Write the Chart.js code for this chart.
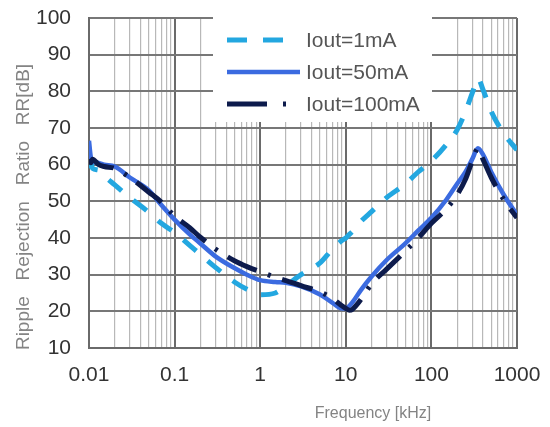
<!DOCTYPE html>
<html>
<head>
<meta charset="utf-8">
<title>Ripple Rejection Ratio</title>
<script src="https://cdn.jsdelivr.net/npm/chart.js@4"></script>
<style>
  html, body { margin: 0; padding: 0; background: #fff; }
  #wrap { width: 550px; height: 427px; }
</style>
</head>
<body>
<div id="wrap"><canvas id="rr" width="550" height="427"></canvas></div>
<script>
// frequency in kHz, shared by all three curves
const freqKHz = [0.01, 0.0105, 0.011, 0.013, 0.015, 0.02, 0.03, 0.05, 0.07,
  0.1, 0.15, 0.2, 0.3, 0.5, 0.7, 1, 1.5, 2, 3, 5, 7, 9,
  10, 11, 12, 15, 20, 30, 50, 70, 100, 150, 200, 250, 300, 350, 400, 500, 700, 1000];

// ripple rejection ratio [dB]
const rr1mA = [59, 60.5, 59, 58.5, 57, 54.5, 51, 47, 44,
  41.5, 38, 35.5, 32, 28, 26, 24.5, 25, 27, 30, 33.2, 37, 39.3,
  40, 41, 41.8, 44.5, 47.2, 51, 54.8, 58, 61, 65.5, 69.5, 74.5, 79.5, 83.5, 80.5, 74.5, 68.5, 64];
const rr50mA = [66.5, 62, 61, 60.5, 60, 59.5, 56.5, 53, 49,
  45, 41, 38.5, 35, 31.8, 30, 28.5, 28, 27.8, 26.8, 24.6, 22.3, 20.8,
  20.8, 21.5, 22.5, 25.8, 29.5, 34, 38.6, 42, 45.5, 50.5, 54.8, 58, 61.5, 64.5, 62.8, 58, 51.8, 46.3];
const rr100mA = [61.5, 60.5, 61.5, 60, 59.5, 59, 56.5, 52.5, 49.8,
  46, 42.8, 40.2, 37, 33.8, 32.2, 30.8, 29.3, 28.4, 27, 25.3, 23.5, 21.5,
  20.8, 20.3, 20.6, 23.2, 27.5, 31.5, 36.5, 40, 44, 48, 51.8, 56, 61, 64.5, 61.5, 56.5, 50.5, 45.5];

const seriesNames = ['Iout=1mA', 'Iout=50mA', 'Iout=100mA'];
const xTickLabels = ['0.01', '0.1', '1', '10', '100', '1000'];
const yMin = 10, yMax = 100, yStep = 10;
const xTitle = 'Frequency [kHz]';
const yTitle = 'Ripple   Rejection   Ratio   RR[dB]';

const pts = arr => arr.map((v, i) => ({ x: freqKHz[i], y: v }));
const isDecade = v => { const l = Math.log10(v); return Math.abs(l - Math.round(l)) < 1e-6; };

Chart.defaults.font.family = '"Liberation Sans", Arial, sans-serif';

// legend drawn inside the plot, over the grid
const boxLegend = {
  id: 'boxLegend',
  beforeDatasetsDraw(chart) {
    const ctx = chart.ctx;
    ctx.save();
    ctx.fillStyle = '#fff';
    ctx.fillRect(213, 16, 219, 106);
    chart.data.datasets.forEach((ds, i) => {
      const y = 40 + i * 32;
      ctx.beginPath();
      ctx.strokeStyle = ds.borderColor;
      ctx.lineWidth = ds.borderWidth;
      ctx.setLineDash(ds.legendDash || []);
      ctx.moveTo(227, y);
      ctx.lineTo(ds.legendDash ? 298 : 300, y);
      ctx.stroke();
      ctx.setLineDash([]);
      ctx.fillStyle = '#555';
      ctx.font = '21px "Liberation Sans", Arial, sans-serif';
      ctx.textBaseline = 'middle';
      ctx.fillText(ds.label, 306, y + 1);
    });
    ctx.restore();
  }
};

const axisTitles = {
  id: 'axisTitles',
  afterDraw(chart) {
    const ctx = chart.ctx;
    ctx.save();
    ctx.fillStyle = '#848484';
    ctx.textAlign = 'center';
    ctx.textBaseline = 'middle';
    ctx.font = '16px "Liberation Sans", Arial, sans-serif';
    ctx.fillText(xTitle, 373, 414);
    ctx.translate(24, 207);
    ctx.rotate(-Math.PI / 2);
    ctx.font = '19px "Liberation Sans", Arial, sans-serif';
    ctx.fillText(yTitle, 0, 0);
    ctx.restore();
  }
};

const noPad = s => { s.paddingLeft = 0; s.paddingRight = 0; s.paddingTop = 0; s.paddingBottom = 0; };

new Chart(document.getElementById('rr'), {
  type: 'line',
  data: {
    datasets: [{
      label: seriesNames[0],
      data: pts(rr1mA),
      borderColor: '#23a7e0',
      borderWidth: 5,
      borderDash: [17, 15],
      legendDash: [20, 16],
      order: 2
    }, {
      label: seriesNames[1],
      data: pts(rr50mA),
      borderColor: '#3b6be0',
      borderWidth: 4.5,
      order: 1
    }, {
      label: seriesNames[2],
      data: pts(rr100mA),
      borderColor: '#0d1b4c',
      borderWidth: 5,
      borderDash: [32, 12, 3, 12],
      legendDash: [40, 16, 3, 16],
      order: 0
    }]
  },
  options: {
    responsive: false,
    animation: false,
    layout: { padding: { top: 18, right: 33, left: 0, bottom: 0 } },
    plugins: {
      legend: { display: false },
      tooltip: { enabled: false }
    },
    elements: { point: { radius: 0 }, line: { fill: false, cubicInterpolationMode: 'monotone' } },
    scales: {
      x: {
        type: 'logarithmic',
        min: 0.01,
        max: 1000,
        afterBuildTicks(scale) {
          const t = [];
          for (let e = -2; e <= 3; e++) {
            for (let m = 1; m <= 9; m++) {
              const v = m * Math.pow(10, e);
              if (v <= 1000 * 1.0001) t.push({ value: v });
            }
          }
          scale.ticks = t;
        },
        afterFit(scale) { scale.height = 79; noPad(scale); },
        ticks: {
          autoSkip: false,
          maxRotation: 0,
          minRotation: 0,
          padding: 15,
          color: '#333',
          font: { size: 21 },
          callback(v) { return isDecade(v) ? xTickLabels[Math.round(Math.log10(v)) + 2] : ''; }
        },
        grid: {
          drawTicks: false,
          color: ctx => isDecade(ctx.tick.value) ? '#6a6a6a' : '#b8b8b8',
          lineWidth: ctx => isDecade(ctx.tick.value) ? 2 : 1.2
        },
        border: { display: true, color: '#6a6a6a', width: 2 }
      },
      y: {
        min: yMin,
        max: yMax,
        afterFit(scale) { scale.width = 89; noPad(scale); },
        ticks: {
          stepSize: yStep,
          padding: 18,
          color: '#333',
          font: { size: 21 }
        },
        grid: {
          drawTicks: false,
          color: '#777',
          lineWidth: 2
        },
        border: { display: true, color: '#6a6a6a', width: 2 }
      }
    }
  },
  plugins: [boxLegend, axisTitles]
});
</script>
</body>
</html>
